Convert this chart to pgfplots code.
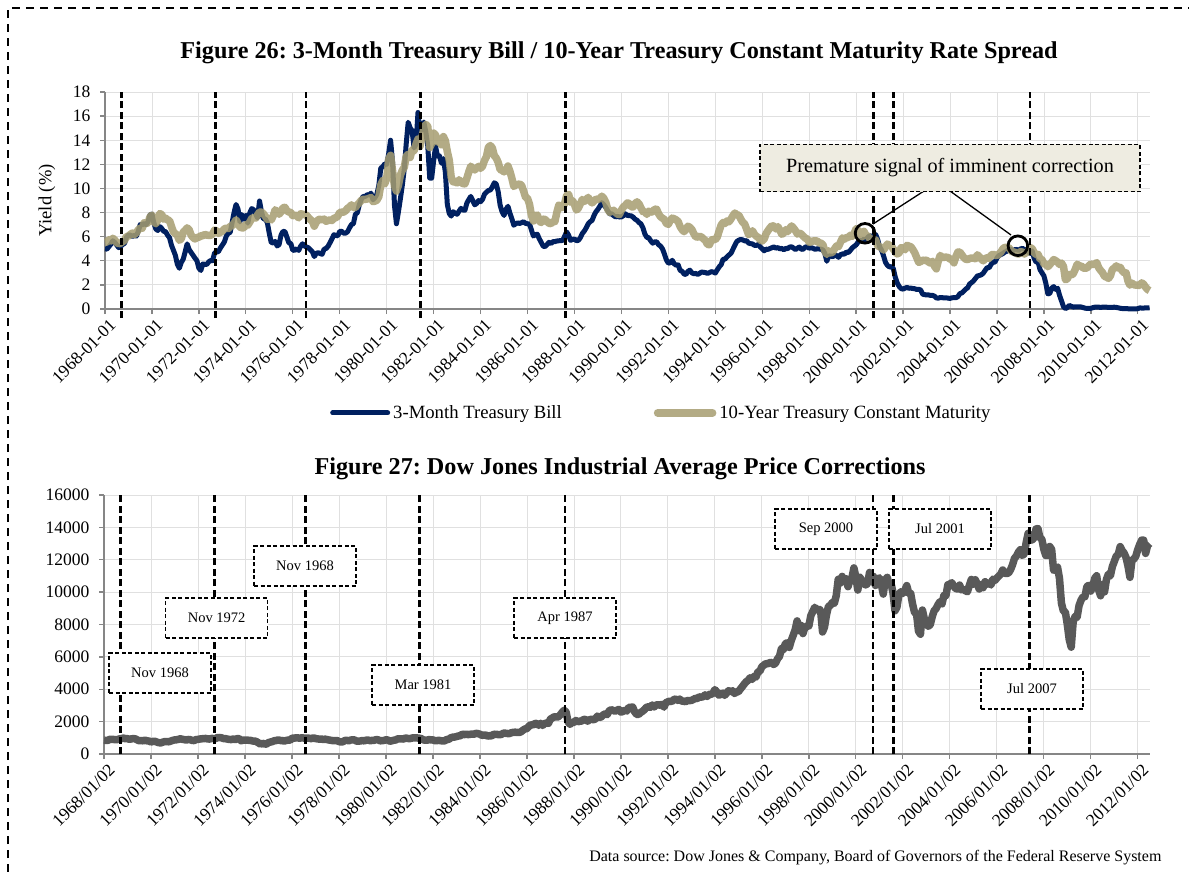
\documentclass[border=0pt]{standalone}
\usepackage{pgfplots}
\usepackage{pgfplotstable}
\pgfplotsset{compat=1.18}
\usepackage{fontspec}
\setmainfont{Liberation Serif}
\frenchspacing
\definecolor{navy}{RGB}{0,32,96}
\definecolor{tanc}{RGB}{166,157,112}
\definecolor{dow}{RGB}{89,89,89}
\definecolor{boxfill}{RGB}{238,236,225}
\definecolor{axgray}{RGB}{134,134,134}

% 3-Month Treasury Bill, monthly from 1968-01
\pgfplotstableread[row sep=\\]{v\\
4.99\\4.97\\5.17\\5.38\\5.66\\5.52\\5.31\\5.09\\5.19\\5.35\\5.45\\5.96\\
6.14\\6.12\\6.02\\6.11\\6.04\\6.44\\7.00\\6.98\\7.09\\7.00\\7.24\\7.82\\
7.87\\7.13\\6.63\\6.51\\6.84\\6.68\\6.45\\6.41\\6.12\\5.91\\5.28\\4.87\\
4.44\\3.70\\3.38\\3.86\\4.14\\4.75\\5.40\\4.94\\4.69\\4.46\\4.22\\4.01\\
3.38\\3.20\\3.73\\3.71\\3.69\\3.91\\4.02\\4.01\\4.65\\4.72\\4.77\\5.06\\
5.31\\5.56\\6.05\\6.29\\6.35\\7.19\\8.01\\8.67\\8.29\\7.22\\7.83\\7.45\\
7.77\\7.12\\7.96\\8.33\\8.23\\7.90\\7.55\\8.96\\8.06\\7.46\\7.47\\7.15\\
6.26\\5.50\\5.49\\5.61\\5.23\\5.34\\6.13\\6.44\\6.42\\5.96\\5.48\\5.44\\
4.87\\4.88\\5.00\\4.86\\5.20\\5.41\\5.23\\5.14\\5.08\\4.92\\4.75\\4.35\\
4.62\\4.67\\4.60\\4.54\\4.96\\5.02\\5.19\\5.49\\5.81\\6.16\\6.10\\6.07\\
6.44\\6.45\\6.29\\6.29\\6.41\\6.73\\7.01\\7.08\\7.85\\7.99\\8.64\\9.08\\
9.35\\9.32\\9.48\\9.46\\9.61\\9.06\\9.24\\9.52\\10.26\\11.70\\11.79\\12.04\\
12.00\\12.86\\14.00\\12.20\\8.58\\7.07\\8.06\\9.13\\10.27\\11.62\\13.73\\15.49\\
15.02\\14.79\\13.36\\13.69\\16.30\\14.73\\14.95\\15.51\\14.70\\13.54\\10.86\\10.85\\
12.28\\13.48\\12.68\\12.70\\12.09\\12.47\\11.35\\8.68\\7.92\\7.71\\8.07\\7.94\\
7.86\\8.11\\8.35\\8.21\\8.19\\8.79\\9.08\\9.34\\9.00\\8.64\\8.76\\9.00\\
8.90\\9.09\\9.52\\9.69\\9.83\\9.87\\10.12\\10.47\\10.37\\9.74\\8.61\\8.06\\
7.76\\8.27\\8.52\\7.95\\7.48\\6.95\\7.08\\7.14\\7.10\\7.16\\7.24\\7.10\\
7.07\\7.06\\6.56\\6.06\\6.15\\6.21\\5.83\\5.53\\5.21\\5.18\\5.35\\5.53\\
5.43\\5.59\\5.59\\5.64\\5.66\\5.67\\5.69\\6.04\\6.40\\6.13\\5.69\\5.77\\
5.81\\5.66\\5.70\\5.91\\6.26\\6.46\\6.73\\7.06\\7.24\\7.35\\7.76\\8.07\\
8.27\\8.53\\8.82\\8.65\\8.43\\8.15\\7.88\\7.90\\7.75\\7.64\\7.69\\7.63\\
7.64\\7.74\\7.90\\7.77\\7.74\\7.73\\7.62\\7.45\\7.36\\7.17\\7.06\\6.74\\
6.22\\5.94\\5.91\\5.65\\5.46\\5.57\\5.58\\5.33\\5.22\\4.99\\4.56\\4.07\\
3.80\\3.84\\4.04\\3.75\\3.63\\3.66\\3.21\\3.13\\2.91\\2.86\\3.13\\3.22\\
3.00\\2.93\\2.95\\2.87\\2.96\\3.07\\3.04\\3.02\\2.95\\3.02\\3.10\\3.06\\
2.98\\3.25\\3.50\\3.68\\4.14\\4.14\\4.33\\4.48\\4.62\\4.95\\5.29\\5.60\\
5.71\\5.77\\5.73\\5.65\\5.67\\5.47\\5.42\\5.40\\5.28\\5.28\\5.36\\5.14\\
5.00\\4.83\\4.96\\4.95\\5.02\\5.09\\5.15\\5.05\\5.09\\4.99\\5.03\\4.91\\
5.03\\5.01\\5.14\\5.16\\5.05\\4.93\\5.05\\5.14\\4.95\\4.97\\5.14\\5.16\\
5.04\\5.09\\5.03\\4.95\\5.00\\4.98\\4.96\\4.90\\4.61\\3.96\\4.41\\4.39\\
4.34\\4.44\\4.44\\4.29\\4.50\\4.57\\4.55\\4.72\\4.68\\4.86\\5.07\\5.20\\
5.32\\5.55\\5.69\\5.66\\5.79\\5.69\\5.96\\6.09\\6.00\\6.11\\6.17\\5.77\\
5.15\\4.88\\4.42\\3.87\\3.62\\3.49\\3.51\\3.36\\2.64\\2.16\\1.87\\1.69\\
1.65\\1.73\\1.79\\1.72\\1.73\\1.70\\1.68\\1.62\\1.63\\1.58\\1.23\\1.19\\
1.17\\1.17\\1.13\\1.13\\1.07\\0.92\\0.90\\0.95\\0.94\\0.92\\0.93\\0.90\\
0.88\\0.93\\0.94\\0.94\\1.02\\1.27\\1.33\\1.48\\1.65\\1.76\\2.07\\2.19\\
2.33\\2.54\\2.74\\2.78\\2.84\\2.97\\3.22\\3.44\\3.42\\3.71\\3.88\\3.89\\
4.24\\4.43\\4.51\\4.60\\4.72\\4.79\\4.95\\4.96\\4.81\\4.92\\4.94\\4.85\\
4.98\\5.03\\4.94\\4.87\\4.73\\4.61\\4.82\\4.20\\3.89\\3.90\\3.27\\3.00\\
2.75\\2.12\\1.26\\1.29\\1.73\\1.86\\1.63\\1.72\\1.13\\0.67\\0.19\\0.03\\
0.13\\0.30\\0.22\\0.16\\0.18\\0.18\\0.18\\0.17\\0.12\\0.07\\0.05\\0.05\\
0.06\\0.11\\0.15\\0.16\\0.16\\0.12\\0.16\\0.16\\0.15\\0.13\\0.14\\0.14\\
0.15\\0.13\\0.10\\0.06\\0.04\\0.04\\0.04\\0.02\\0.01\\0.02\\0.01\\0.01\\
0.03\\0.09\\0.08\\0.08\\0.09\\0.09\\0.10\\
}\tbill

% 10-Year Treasury Constant Maturity, monthly from 1968-01
\pgfplotstableread[row sep=\\]{v\\
5.53\\5.56\\5.74\\5.64\\5.87\\5.72\\5.50\\5.42\\5.46\\5.58\\5.70\\6.03\\
6.04\\6.19\\6.30\\6.17\\6.32\\6.57\\6.72\\6.69\\7.16\\7.10\\7.14\\7.65\\
7.79\\7.24\\7.07\\7.39\\7.91\\7.84\\7.46\\7.53\\7.39\\7.33\\6.84\\6.39\\
6.24\\6.11\\5.70\\5.83\\6.39\\6.52\\6.73\\6.58\\6.14\\5.93\\5.81\\5.93\\
5.95\\6.08\\6.07\\6.19\\6.13\\6.11\\6.11\\6.21\\6.55\\6.48\\6.28\\6.36\\
6.46\\6.64\\6.71\\6.67\\6.85\\6.90\\7.13\\7.40\\7.09\\6.79\\6.73\\6.74\\
6.99\\6.96\\7.21\\7.51\\7.58\\7.54\\7.81\\8.04\\8.04\\7.90\\7.68\\7.43\\
7.50\\7.39\\7.73\\8.23\\8.06\\7.86\\8.06\\8.40\\8.43\\8.14\\8.05\\8.00\\
7.74\\7.79\\7.73\\7.56\\7.90\\7.86\\7.83\\7.77\\7.59\\7.41\\7.29\\6.87\\
7.21\\7.39\\7.46\\7.37\\7.46\\7.28\\7.33\\7.40\\7.34\\7.52\\7.58\\7.69\\
8.01\\8.03\\8.04\\8.15\\8.35\\8.46\\8.64\\8.41\\8.42\\8.64\\8.81\\9.01\\
9.10\\9.10\\9.12\\9.18\\9.25\\8.91\\8.95\\9.03\\9.33\\10.30\\10.65\\10.39\\
10.80\\12.41\\12.75\\11.47\\10.18\\9.78\\10.25\\11.10\\11.51\\11.75\\12.68\\12.84\\
12.57\\13.19\\13.12\\13.68\\14.10\\13.47\\14.28\\14.94\\15.32\\15.15\\13.39\\13.72\\
14.59\\14.43\\13.86\\13.87\\13.62\\14.30\\13.95\\13.06\\12.34\\10.91\\10.55\\10.54\\
10.46\\10.72\\10.51\\10.40\\10.38\\10.85\\11.38\\11.85\\11.65\\11.54\\11.69\\11.83\\
11.67\\11.84\\12.32\\12.63\\13.41\\13.56\\13.36\\12.72\\12.52\\12.16\\11.57\\11.50\\
11.38\\11.51\\11.86\\11.43\\10.85\\10.16\\10.31\\10.33\\10.37\\10.24\\9.78\\9.26\\
9.19\\8.70\\7.78\\7.30\\7.71\\7.80\\7.30\\7.17\\7.45\\7.43\\7.25\\7.11\\
7.08\\7.25\\7.25\\8.02\\8.61\\8.40\\8.45\\8.76\\9.42\\9.52\\8.86\\8.99\\
8.67\\8.21\\8.37\\8.72\\9.09\\8.92\\9.06\\9.26\\8.98\\8.80\\8.96\\9.11\\
9.09\\9.17\\9.36\\9.18\\8.86\\8.28\\8.02\\8.11\\8.19\\8.01\\7.87\\7.84\\
8.21\\8.47\\8.59\\8.79\\8.76\\8.48\\8.47\\8.75\\8.89\\8.72\\8.39\\8.08\\
8.09\\7.85\\8.11\\8.04\\8.07\\8.28\\8.27\\7.90\\7.65\\7.53\\7.42\\7.09\\
7.03\\7.34\\7.54\\7.48\\7.39\\7.26\\6.84\\6.59\\6.42\\6.59\\6.87\\6.77\\
6.60\\6.26\\5.98\\5.97\\6.04\\5.96\\5.81\\5.68\\5.36\\5.33\\5.72\\5.77\\
5.75\\5.97\\6.48\\6.97\\7.18\\7.10\\7.30\\7.24\\7.46\\7.74\\7.96\\7.81\\
7.78\\7.47\\7.20\\7.06\\6.63\\6.17\\6.28\\6.49\\6.20\\6.04\\5.93\\5.71\\
5.65\\5.81\\6.27\\6.51\\6.74\\6.91\\6.87\\6.64\\6.83\\6.53\\6.20\\6.30\\
6.58\\6.42\\6.69\\6.89\\6.71\\6.49\\6.22\\6.30\\6.21\\6.03\\5.88\\5.81\\
5.54\\5.57\\5.65\\5.64\\5.65\\5.50\\5.46\\5.34\\4.81\\4.53\\4.83\\4.65\\
4.72\\5.00\\5.23\\5.18\\5.54\\5.90\\5.79\\5.94\\5.92\\6.11\\6.03\\6.28\\
6.66\\6.52\\6.26\\5.99\\6.44\\6.10\\6.05\\5.83\\5.80\\5.74\\5.72\\5.24\\
5.16\\5.10\\4.89\\5.14\\5.39\\5.28\\5.24\\4.97\\4.73\\4.57\\4.65\\5.09\\
5.04\\4.91\\5.28\\5.21\\5.16\\4.93\\4.65\\4.26\\3.87\\3.94\\4.05\\4.03\\
4.05\\3.90\\3.81\\3.96\\3.57\\3.33\\3.98\\4.45\\4.27\\4.29\\4.30\\4.27\\
4.15\\4.08\\3.83\\4.35\\4.72\\4.73\\4.50\\4.28\\4.13\\4.10\\4.19\\4.23\\
4.22\\4.17\\4.50\\4.34\\4.14\\4.00\\4.18\\4.26\\4.20\\4.46\\4.54\\4.47\\
4.42\\4.57\\4.72\\4.99\\5.11\\5.11\\5.09\\4.88\\4.72\\4.73\\4.60\\4.56\\
4.76\\4.72\\4.56\\4.69\\4.75\\5.10\\5.00\\4.67\\4.52\\4.53\\4.15\\4.10\\
3.74\\3.74\\3.51\\3.68\\3.88\\4.10\\4.01\\3.89\\3.69\\3.81\\3.53\\2.42\\
2.52\\2.87\\2.82\\2.93\\3.29\\3.72\\3.56\\3.59\\3.40\\3.39\\3.40\\3.59\\
3.73\\3.69\\3.73\\3.85\\3.42\\3.20\\3.01\\2.70\\2.65\\2.54\\2.76\\3.29\\
3.39\\3.58\\3.41\\3.46\\3.17\\3.00\\3.00\\2.30\\1.98\\2.15\\2.01\\1.98\\
1.97\\1.97\\2.17\\2.05\\1.80\\1.62\\1.53\\
}\tnote

% Dow Jones Industrial Average, monthly from 1968-01
\pgfplotstableread[row sep=\\]{v\\
855\\840\\840\\912\\899\\897\\883\\896\\935\\952\\985\\944\\
946\\905\\935\\950\\937\\873\\816\\837\\813\\856\\812\\800\\
744\\778\\786\\736\\700\\683\\734\\765\\761\\756\\794\\839\\
869\\879\\904\\941\\907\\891\\858\\898\\887\\839\\831\\890\\
902\\928\\941\\954\\961\\929\\925\\964\\953\\956\\1018\\1020\\
999\\955\\951\\921\\901\\891\\926\\888\\947\\956\\822\\851\\
856\\860\\847\\837\\802\\802\\757\\679\\608\\666\\619\\616\\
704\\739\\768\\821\\832\\879\\832\\835\\794\\836\\861\\852\\
975\\973\\1000\\997\\975\\1003\\985\\974\\990\\965\\947\\1005\\
954\\936\\919\\927\\899\\916\\891\\862\\847\\818\\830\\831\\
770\\742\\757\\837\\841\\819\\862\\877\\866\\793\\799\\805\\
839\\808\\862\\855\\822\\842\\846\\888\\879\\816\\822\\839\\
876\\863\\786\\817\\851\\868\\935\\933\\932\\925\\993\\964\\
947\\975\\1004\\998\\992\\977\\952\\882\\850\\853\\889\\875\\
871\\824\\823\\848\\820\\812\\809\\901\\896\\992\\1039\\1047\\
1076\\1113\\1130\\1226\\1200\\1222\\1199\\1216\\1233\\1225\\1276\\1259\\
1221\\1155\\1165\\1171\\1105\\1132\\1115\\1224\\1207\\1207\\1189\\1212\\
1287\\1284\\1267\\1258\\1315\\1336\\1348\\1334\\1329\\1374\\1472\\1547\\
1571\\1709\\1819\\1784\\1877\\1893\\1775\\1898\\1768\\1878\\1914\\1896\\
2158\\2224\\2305\\2286\\2292\\2419\\2572\\2700\\2596\\1994\\1834\\1939\\
1958\\2072\\1988\\2032\\2031\\2142\\2129\\2032\\2113\\2149\\2115\\2169\\
2342\\2259\\2294\\2419\\2480\\2440\\2661\\2737\\2693\\2645\\2706\\2753\\
2591\\2627\\2707\\2657\\2877\\2881\\2905\\2615\\2453\\2442\\2560\\2634\\
2736\\2882\\2914\\2888\\3028\\2907\\3025\\3044\\3017\\3069\\2895\\3169\\
3224\\3267\\3236\\3359\\3397\\3319\\3394\\3257\\3272\\3226\\3306\\3301\\
3310\\3371\\3435\\3428\\3527\\3516\\3540\\3651\\3555\\3681\\3684\\3754\\
3978\\3832\\3636\\3682\\3758\\3625\\3765\\3913\\3843\\3908\\3739\\3834\\
3844\\4011\\4158\\4321\\4465\\4556\\4709\\4611\\4789\\4756\\5075\\5117\\
5395\\5486\\5588\\5569\\5643\\5655\\5529\\5616\\5882\\6029\\6522\\6448\\
6813\\6878\\6584\\7009\\7331\\7673\\8223\\7622\\7945\\7442\\7823\\7908\\
7907\\8546\\8800\\9063\\8900\\8952\\8883\\7539\\7843\\8592\\9117\\9181\\
9359\\9307\\9786\\10789\\10560\\10971\\10655\\10829\\10337\\10730\\10878\\11497\\
10941\\10128\\10922\\10734\\10522\\10448\\10522\\11215\\10651\\10971\\10415\\10787\\
10887\\10495\\9879\\10735\\10912\\10502\\10523\\9950\\8848\\9075\\9852\\10022\\
9920\\10106\\10404\\9946\\9925\\9243\\8737\\8664\\7592\\7400\\8896\\8342\\
8054\\7891\\7992\\8480\\8850\\8985\\9234\\9416\\9275\\9801\\9782\\10454\\
10488\\10584\\10358\\10226\\10188\\10435\\10140\\10174\\10080\\10027\\10428\\10783\\
10490\\10766\\10504\\10193\\10467\\10275\\10641\\10482\\10569\\10440\\10806\\10718\\
10865\\10993\\11109\\11367\\11168\\11150\\11186\\11381\\11679\\12081\\12222\\12463\\
12622\\12269\\12354\\13063\\13628\\13409\\13212\\13358\\13896\\13930\\13372\\13265\\
12650\\12266\\12263\\12820\\12638\\11350\\11378\\11544\\10851\\9325\\8829\\8776\\
8001\\7063\\6600\\8168\\8500\\8447\\9172\\9496\\9712\\9713\\10345\\10428\\
10067\\10325\\10857\\11009\\10137\\9774\\10466\\10015\\10788\\11118\\11006\\11578\\
11892\\12226\\12320\\12811\\12570\\12414\\12143\\11614\\10913\\11955\\12046\\12218\\
12633\\12952\\13212\\13214\\12393\\12880\\13009\\
}\tdow

\pgfplotsset{
  base/.style={
    scale only axis,
    axis x line*=bottom, axis y line*=left,
    axis line style={axgray, line width=1.3pt, -},
    every tick/.style={axgray, line width=1.3pt},
    tick align=outside, major tick length=5pt, minor tick length=0pt,
    xmajorgrids=true, ymajorgrids=true, xminorgrids=true, minor x tick num=1,
    major grid style={black!12, line width=0.8pt},
    minor grid style={black!12, line width=0.8pt},
    xmin=1968, xmax=2012.52,
    xtick={1968,1970,...,2012},
    ticklabel style={font=\fontsize{17.5}{20}\selectfont},
    xticklabel style={rotate=45, anchor=north east, xshift=3pt, yshift=-2pt},
    yticklabel style={xshift=-6pt},
    /pgf/number format/assume math mode=true,
    clip=false,
  },
  evline/.style={black, line width=2.6pt, dash pattern=on 7pt off 3.5pt, forget plot},
}
\tikzset{
  boxnode/.style={draw=black, line width=1.2pt, dash pattern=on 4pt off 2.5pt, fill=white,
    minimum width=102pt, minimum height=40pt, font=\fontsize{14.5}{17}\selectfont},
}

\begin{document}
\begin{tikzpicture}
\useasboundingbox (0pt,0pt) rectangle (1189pt,-872pt);
\fill[white] (0pt,0pt) rectangle (1189pt,-872pt);

% ---------------- Figure 26 ----------------
\begin{axis}[base, at={(105pt,-309pt)}, anchor=south west,
  width=1045pt, height=217pt,
  ymin=0, ymax=18, ytick={0,2,...,18},
  xticklabels={1968-01-01,1970-01-01,1972-01-01,1974-01-01,1976-01-01,1978-01-01,1980-01-01,1982-01-01,1984-01-01,1986-01-01,1988-01-01,1990-01-01,1992-01-01,1994-01-01,1996-01-01,1998-01-01,2000-01-01,2002-01-01,2004-01-01,2006-01-01,2008-01-01,2010-01-01,2012-01-01},
  ylabel={Yield (\%)},
  ylabel style={at={(axis description cs:-0.0555,0.5)}, anchor=center, font=\fontsize{18.5}{21}\selectfont},
  legend style={at={(0.2153,-0.479)}, anchor=west, draw=none, fill=none, inner sep=0pt,
    legend columns=2, font=\fontsize{18.7}{21}\selectfont,
    /tikz/every even column/.append style={column sep=90pt},
    /tikz/every odd column/.append style={column sep=1pt}},
  legend image code/.code={\draw[#1, line cap=round] (0pt,0pt) -- (55pt,0pt);},
]
\addplot[navy, line width=5pt, line join=round] table[x expr=1968+\coordindex/12, y=v] {\tbill};
\addlegendentry{3-Month Treasury Bill}
\addplot[tanc, opacity=0.85, line width=7.5pt, line join=round] table[x expr=1968+\coordindex/12, y=v] {\tnote};
\addlegendentry{10-Year Treasury Constant Maturity}
\addplot[evline] coordinates {(1968.70,-0.75) (1968.70,18)};
\addplot[evline] coordinates {(1972.71,-0.75) (1972.71,18)};
\addplot[evline] coordinates {(1976.57,-0.75) (1976.57,18)};
\addplot[evline] coordinates {(1981.44,-0.75) (1981.44,18)};
\addplot[evline] coordinates {(1987.62,-0.75) (1987.62,18)};
\addplot[evline] coordinates {(2000.73,-0.75) (2000.73,18)};
\addplot[evline] coordinates {(2001.60,-0.75) (2001.60,18)};
\addplot[evline] coordinates {(2007.40,-0.75) (2007.40,18)};
\addplot[only marks, mark=o, mark size=9.8pt, black, line width=2.8pt, forget plot] coordinates {(2000.38,6.28) (2006.89,5.25)};
\end{axis}

% ---------------- Figure 27 ----------------
\begin{axis}[base, at={(104pt,-754pt)}, anchor=south west,
  width=1046pt, height=259pt,
  ymin=0, ymax=16000, ytick={0,2000,...,16000},
  scaled y ticks=false,
  yticklabel style={/pgf/number format/.cd, fixed, set thousands separator={}},
  xticklabels={1968/01/02,1970/01/02,1972/01/02,1974/01/02,1976/01/02,1978/01/02,1980/01/02,1982/01/02,1984/01/02,1986/01/02,1988/01/02,1990/01/02,1992/01/02,1994/01/02,1996/01/02,1998/01/02,2000/01/02,2002/01/02,2004/01/02,2006/01/02,2008/01/02,2010/01/02,2012/01/02},
]
\addplot[dow, line width=7.5pt, line join=round] table[x expr=1968+\coordindex/12, y=v] {\tdow};
\addplot[evline] coordinates {(1968.70,0) (1968.70,16000)};
\addplot[evline] coordinates {(1972.71,0) (1972.71,16000)};
\addplot[evline] coordinates {(1976.57,0) (1976.57,16000)};
\addplot[evline] coordinates {(1981.44,0) (1981.44,16000)};
\addplot[evline] coordinates {(1987.62,0) (1987.62,16000)};
\addplot[evline] coordinates {(2000.73,0) (2000.73,16000)};
\addplot[evline] coordinates {(2001.60,0) (2001.60,16000)};
\addplot[evline] coordinates {(2007.40,0) (2007.40,16000)};
\end{axis}

% titles
\node[font=\bfseries\fontsize{24.2}{27}\selectfont] at (619pt,-53pt) {Figure 26: 3-Month Treasury Bill / 10-Year Treasury Constant Maturity Rate Spread};
\node[font=\bfseries\fontsize{24.2}{27}\selectfont] at (620pt,-469pt) {Figure 27: Dow Jones Industrial Average Price Corrections};

% annotation fig 26
\draw[black, line width=1.3pt] (924pt,-191pt) -- (873pt,-224pt);
\draw[black, line width=1.3pt] (950pt,-191pt) -- (1011pt,-235pt);
\node[draw=black, line width=1.2pt, dash pattern=on 4pt off 2.5pt, fill=boxfill,
  minimum width=380pt, minimum height=47pt, font=\fontsize{20.2}{23}\selectfont] at (950pt,-168pt) {Premature signal of imminent correction};

% boxes fig 27
\node[boxnode] at (160pt,-673pt) {Nov 1968};
\node[boxnode] at (216.7pt,-618pt) {Nov 1972};
\node[boxnode] at (305pt,-566pt) {Nov 1968};
\node[boxnode] at (423pt,-685pt) {Mar 1981};
\node[boxnode] at (565pt,-618pt) {Apr 1987};
\node[boxnode] at (826pt,-529pt) {Sep 2000};
\node[boxnode] at (940pt,-529pt) {Jul 2001};
\node[boxnode] at (1032pt,-689pt) {Jul 2007};

% source
\node[anchor=east, font=\fontsize{16}{19}\selectfont] at (1165pt,-858pt) {Data source: Dow Jones \& Company, Board of Governors of the Federal Reserve System};

% outer dashed frame
\draw[black, line width=1.3pt, dash pattern=on 8pt off 6pt] (8pt,-872pt) -- (8pt,-8pt) -- (1189pt,-8pt);
\end{tikzpicture}
\end{document}
